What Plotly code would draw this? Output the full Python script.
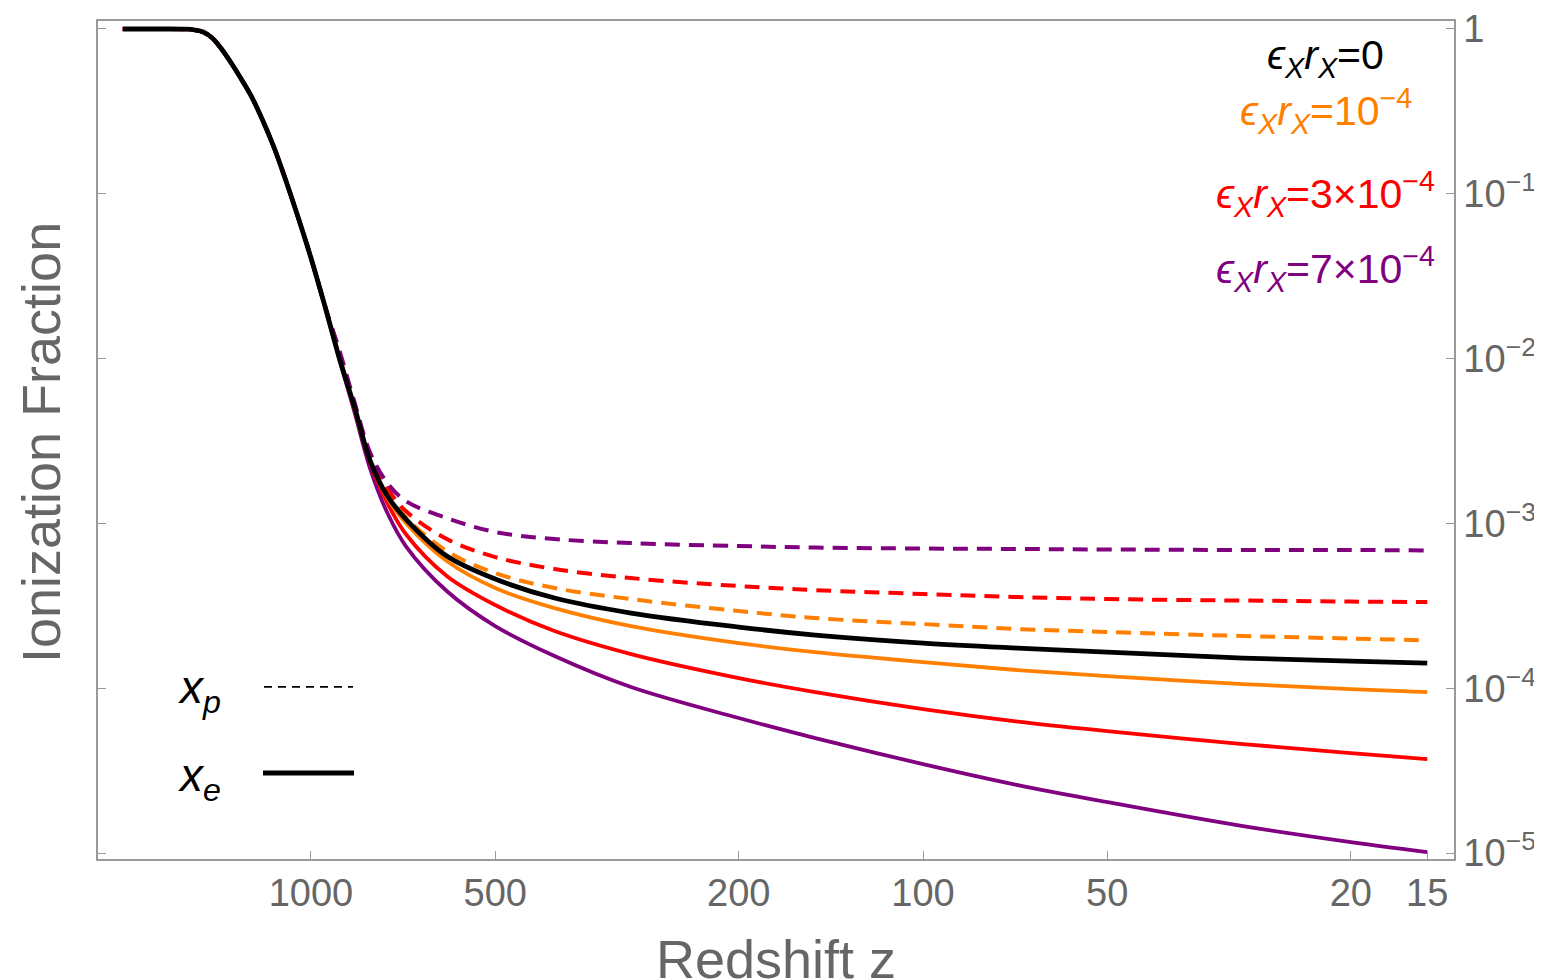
import plotly.graph_objects as go

# Shared high-redshift part (all models coincide)
z_common = [2030, 1800, 1600, 1550, 1500, 1450, 1400, 1350, 1300, 1250, 1200, 1150, 1100, 1050, 1000, 950]
x_common = [1.0, 1.0, 0.997, 0.986, 0.959, 0.882, 0.756, 0.622, 0.497, 0.387, 0.2804, 0.1923, 0.1213, 0.0723, 0.0408, 0.02114]

z_low = [900, 850, 800, 750, 700, 600, 500, 400, 300, 200, 150, 100, 70, 50, 30, 20, 15]

xe_0 = [0.01023, 0.005158, 0.002391, 0.001467, 0.001063, 6.34e-4, 4.60e-4, 3.526e-4, 2.859e-4, 2.35e-4,
        2.103e-4, 1.880e-4, 1.753e-4, 1.658e-4, 1.525e-4, 1.462e-4, 1.422e-4]
xe_1e4 = [0.01051, 0.005086, 0.002391, 0.001426, 0.001006, 5.91e-4, 4.055e-4, 3.066e-4, 2.384e-4, 1.880e-4,
          1.658e-4, 1.442e-4, 1.289e-4, 1.186e-4, 1.060e-4, 9.89e-5, 9.48e-5]
xp_1e4 = [0.01081, 0.005303, 0.002493, 0.001573, 0.001093, 6.80e-4, 5.00e-4, 4.055e-4, 3.477e-4, 2.94e-4,
          2.667e-4, 2.452e-4, 2.287e-4, 2.193e-4, 2.074e-4, 2.003e-4, 1.950e-4]
xe_3e4 = [0.01037, 0.005016, 0.002325, 0.001329, 8.625e-4, 4.80e-4, 3.198e-4, 2.224e-4, 1.612e-4, 1.153e-4,
          9.48e-5, 7.48e-5, 6.28e-5, 5.50e-5, 4.586e-5, 4.044e-5, 3.72e-5]
xp_3e4 = [0.01112, 0.005378, 0.002564, 0.001640, 0.001189, 8.04e-4, 6.25e-4, 5.29e-4, 4.66e-4, 4.17e-4,
          3.94e-4, 3.73e-4, 3.576e-4, 3.477e-4, 3.404e-4, 3.357e-4, 3.334e-4]
xe_7e4 = [0.01008, 0.004808, 0.002138, 0.001156, 7.293e-4, 3.89e-4, 2.384e-4, 1.568e-4, 1.017e-4, 6.596e-5,
          4.985e-5, 3.467e-5, 2.586e-5, 2.04e-5, 1.458e-5, 1.166e-5, 1.014e-5]
xp_7e4 = [0.01143, 0.005530, 0.002674, 0.001758, 0.001367, 0.001078, 8.87e-4, 8.04e-4, 7.60e-4, 7.29e-4,
          7.14e-4, 7.04e-4, 7.00e-4, 6.95e-4, 6.90e-4, 6.90e-4, 6.85e-4]

x_ticks = [1000, 500, 200, 100, 50, 20, 15]
y_ticks = [1e-5, 1e-4, 1e-3, 1e-2, 1e-1, 1]
y_ticktext = ["10<sup>−5</sup>", "10<sup>−4</sup>", "10<sup>−3</sup>", "10<sup>−2</sup>", "10<sup>−1</sup>", "1"]

ORANGE = "#FF8000"
RED = "#FF0000"
PURPLE = "#800080"
GRAY_LINE = "#9a9a9a"
GRAY_TEXT = "#666666"
DASH = "15px,9px"
FONT = "Liberation Sans, Arial, sans-serif"

z_all = z_common + z_low

series = [
    (xe_7e4, PURPLE, "solid", 3.8),
    (xe_3e4, RED, "solid", 3.8),
    (xe_1e4, ORANGE, "solid", 3.8),
    (xp_1e4, ORANGE, DASH, 4),
    (xp_3e4, RED, DASH, 4),
    (xp_7e4, PURPLE, DASH, 4),
    (xe_0, "black", "solid", 4.8),
]

fig = go.Figure()
for vals, col, dash, w in series:
    fig.add_trace(go.Scatter(
        x=z_all, y=x_common + vals, mode="lines",
        line=dict(color=col, width=w, dash=dash, shape="spline", smoothing=1.0),
        showlegend=False, hoverinfo="skip"))

fig.update_layout(
    width=1542, height=980,
    margin=dict(l=90, r=96, t=13, b=129),
    paper_bgcolor="white", plot_bgcolor="white",
    font=dict(family=FONT, color=GRAY_TEXT),
    showlegend=False,
)

fig.update_xaxes(
    type="log", range=[3.348, 1.1324], automargin=False,
    tickvals=x_ticks, ticktext=[str(v) for v in x_ticks],
    ticks="inside", ticklen=8, tickcolor=GRAY_LINE, tickwidth=1.2,
    showline=True, linecolor=GRAY_LINE, linewidth=1.5, mirror=True,
    showgrid=False, zeroline=False,
    tickfont=dict(size=38, color=GRAY_TEXT, family=FONT),
)
fig.update_yaxes(
    type="log", range=[-5.036, 0.0485], side="right", automargin=False,
    tickvals=y_ticks, ticktext=y_ticktext,
    ticks="inside", ticklen=8, tickcolor=GRAY_LINE, tickwidth=1.2,
    showline=True, linecolor=GRAY_LINE, linewidth=1.5, mirror="ticks",
    showgrid=False, zeroline=False,
    tickfont=dict(size=38, color=GRAY_TEXT, family=FONT),
)

labels = [
    ("<i>ϵ</i><sub><i>X</i></sub><i>r</i><sub><i>X</i></sub>=0", "black", 0.9558),
    ("<i>ϵ</i><sub><i>X</i></sub><i>r</i><sub><i>X</i></sub>=10<sup>−4</sup>", ORANGE, 0.8926),
    ("<i>ϵ</i><sub><i>X</i></sub><i>r</i><sub><i>X</i></sub>=3×10<sup>−4</sup>", RED, 0.7936),
    ("<i>ϵ</i><sub><i>X</i></sub><i>r</i><sub><i>X</i></sub>=7×10<sup>−4</sup>", PURPLE, 0.7041),
]
for txt, col, yy in labels:
    fig.add_annotation(text=txt, x=0.9056, y=yy, xref="paper", yref="paper",
                       showarrow=False, xanchor="center", yanchor="middle",
                       font=dict(size=41, color=col, family=FONT))

# style key (bottom left)
fig.add_annotation(text="<i>x</i><sub><i>p</i></sub>", x=0.0745, y=0.2005, xref="paper", yref="paper",
                   showarrow=False, xanchor="center", yanchor="middle",
                   font=dict(size=46, color="black", family=FONT))
fig.add_annotation(text="<i>x</i><sub><i>e</i></sub>", x=0.0745, y=0.0955, xref="paper", yref="paper",
                   showarrow=False, xanchor="center", yanchor="middle",
                   font=dict(size=46, color="black", family=FONT))
fig.add_shape(type="line", xref="paper", yref="paper", x0=0.1224, x1=0.1881, y0=0.2053, y1=0.2053,
              line=dict(color="black", width=1.8, dash="8px,6px"))
fig.add_shape(type="line", xref="paper", yref="paper", x0=0.1217, x1=0.1888, y0=0.1026, y1=0.1026,
              line=dict(color="black", width=5))

# axis titles
fig.add_annotation(text="Redshift z", x=0.5, y=-0.119, xref="paper", yref="paper",
                   showarrow=False, xanchor="center", yanchor="middle",
                   font=dict(size=54, color=GRAY_TEXT, family=FONT))
fig.add_annotation(text="Ionization Fraction", x=-0.042, y=0.4964, xref="paper", yref="paper",
                   showarrow=False, xanchor="center", yanchor="middle", textangle=-90,
                   font=dict(size=54, color=GRAY_TEXT, family=FONT))

fig.write_html("out.html")
